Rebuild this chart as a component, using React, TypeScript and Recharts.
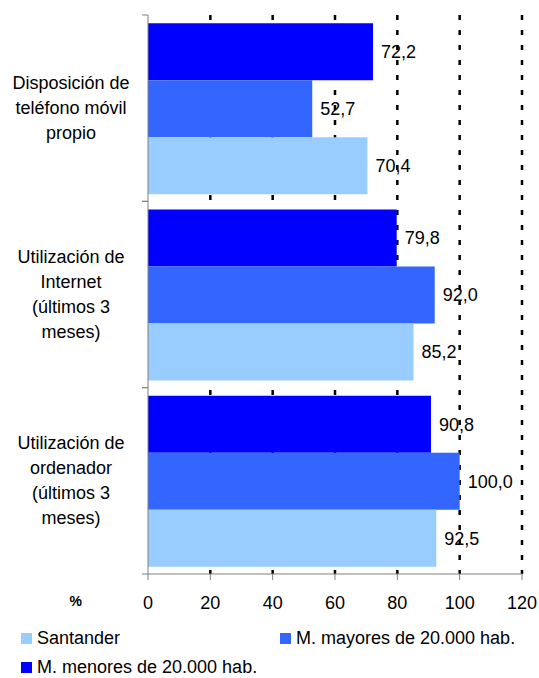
import { BarChart, Bar, XAxis, YAxis, CartesianGrid, LabelList } from "recharts";

const categories = [
  "Disposición de\nteléfono móvil\npropio",
  "Utilización de\nInternet\n(últimos 3\nmeses)",
  "Utilización de\nordenador\n(últimos 3\nmeses)",
];
const santander = [70.4, 85.2, 92.5];
const mayores = [52.7, 92.0, 100.0];
const menores = [72.2, 79.8, 90.8];
const xTicks = [0, 20, 40, 60, 80, 100, 120];

const FONT = '"Liberation Sans", Arial, sans-serif';

// bar order top->bottom inside each group
const series = [
  { key: "menores", name: "M. menores de 20.000 hab.", color: "#0000FF" },
  { key: "mayores", name: "M. mayores de 20.000 hab.", color: "#3366FF" },
  { key: "santander", name: "Santander", color: "#99CCFF" },
];

const data = categories.map((name, i) => ({
  name,
  santander: santander[i],
  mayores: mayores[i],
  menores: menores[i],
}));

const fmt = (v: any) => Number(v).toFixed(1).replace(".", ",");

function CategoryTick(props: any) {
  const { x, y, payload } = props;
  const lines = String(payload.value).split("\n");
  const half = payload.offset || 93.2;
  const axisX = x + 8;
  const lh = 25;
  const startY = y - ((lines.length - 1) * lh) / 2;
  return (
    <g>
      <line x1={axisX - 6} x2={axisX} y1={y - half} y2={y - half} stroke="#808080" />
      <line x1={axisX - 6} x2={axisX} y1={y + half} y2={y + half} stroke="#808080" />
      <text
        x={x - 69}
        y={startY}
        textAnchor="middle"
        dominantBaseline="central"
        fontSize={18}
        fontFamily={FONT}
        fill="#000"
      >
        {lines.map((l, i) => (
          <tspan key={i} x={x - 69} y={startY + i * lh}>
            {l}
          </tspan>
        ))}
      </text>
    </g>
  );
}

const legendOrder = [
  { s: series[2], left: 21, top: 638 },
  { s: series[1], left: 280, top: 638 },
  { s: series[0], left: 21, top: 667 },
];

export default function App() {
  return (
    <div style={{ position: "absolute", left: 0, top: 0, width: 539, height: 678, background: "#fff", fontFamily: FONT }}>
      <BarChart
        width={539}
        height={620}
        data={data}
        layout="vertical"
        margin={{ top: 15, right: 17, left: 0, bottom: 6 }}
        barCategoryGap="4.4%"
        barGap={0}
      >
        <CartesianGrid
          horizontal={false}
          stroke="#000"
          strokeWidth={2.5}
          strokeDasharray="5 10"
          verticalValues={xTicks.filter((v) => v > 0)}
        />
        <XAxis
          type="number"
          domain={[0, 120]}
          ticks={xTicks}
          interval={0}
          height={40}
          axisLine={{ stroke: "#808080" }}
          tickLine={{ stroke: "#808080" }}
          tickSize={6}
          tickMargin={16}
          tick={{ fontSize: 18, fill: "#000", fontFamily: FONT }}
          label={{
            value: "%",
            position: "left",
            offset: 66,
            dy: 7,
            fontSize: 14,
            fontWeight: "bold",
            fill: "#000",
            fontFamily: FONT,
          }}
        />
        <YAxis
          type="category"
          dataKey="name"
          width={148}
          axisLine={{ stroke: "#808080" }}
          tickLine={false}
          tick={<CategoryTick />}
          interval={0}
        />
        {series.map((s) => (
          <Bar key={s.key} dataKey={s.key} name={s.name} fill={s.color} isAnimationActive={false}>
            <LabelList
              dataKey={s.key}
              position="right"
              offset={8}
              formatter={fmt}
              fill="#000"
              fontSize={18}
              fontFamily={FONT}
            />
          </Bar>
        ))}
      </BarChart>
      {legendOrder.map(({ s, left, top }) => (
        <div
          key={s.key}
          style={{
            position: "absolute",
            left,
            top: top - 11,
            height: 22,
            display: "flex",
            alignItems: "center",
            fontSize: 18,
            lineHeight: "22px",
            color: "#000",
            whiteSpace: "nowrap",
          }}
        >
          <span style={{ width: 11, height: 11, background: s.color, marginRight: 5, display: "inline-block" }} />
          {s.name}
        </div>
      ))}
    </div>
  );
}
